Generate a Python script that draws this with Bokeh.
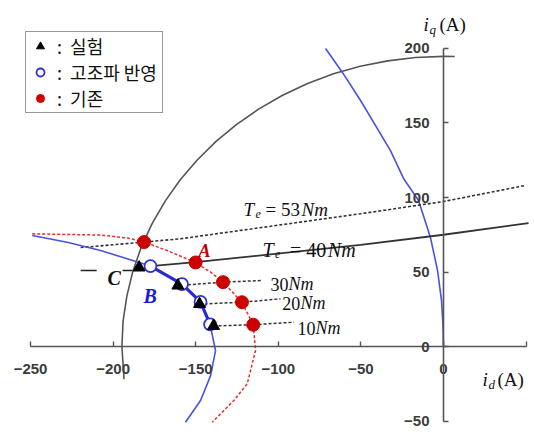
from bokeh.plotting import figure
from bokeh.models import Legend, LegendItem, FixedTicker
from bokeh.core.properties import value
from bokeh.embed import file_html
from bokeh.resources import INLINE

# ---- operating points (i_d, i_q in A) ----
base_x = [-181.3, -150.1, -133.5, -122.0, -115.2]          # 기존
base_y = [70.1, 56.4, 43.2, 29.7, 14.6]
harm_x = [-177.4, -158.3, -147.1, -141.3]                  # 고조파 반영
harm_y = [54.0, 41.9, 29.9, 14.8]
test_x = [-184.3, -160.8, -147.7, -139.2]                  # 실험
test_y = [53.0, 40.9, 28.5, 13.8]

# current limit circle
limit_x = [-193.4, -194.7, -194.0, -191.7, -188.1, -183.0, -176.5, -168.6, -159.5,
           -149.1, -137.7, -125.2, -111.7, -97.4, -82.3, -66.6, -50.4, -33.8,
           -17.0, 0.0, 6.8]
limit_y = [-22.0, 0.0, 17.0, 33.8, 50.4, 66.6, 82.3, 97.4, 111.7, 125.2, 137.7,
           149.1, 159.5, 168.6, 176.5, 183.0, 188.1, 191.7, 194.0, 194.7, 194.6]

# voltage limit curve near the q axis
volt_x = [-71.4, -61.3, -50.2, -32.1, -24.2, -15.1, -7.9, -3.6, -1.2, -0.3, 0.0]
volt_y = [200.0, 184.1, 165.1, 131.5, 112.8, 98.0, 73.2, 51.0, 30.9, 14.1, 0.0]

# trajectory, conventional
base_curve_x = [-249.0, -207.6, -191.3, -181.3, -167.3, -150.1, -141.0, -133.5,
                -122.0, -115.2, -113.8, -118.8, -126.9, -140.0]
base_curve_y = [75.6, 74.8, 72.8, 70.1, 64.4, 56.4, 49.9, 43.2, 29.7, 14.6,
                -2.7, -25.0, -36.2, -50.8]

# trajectory, harmonics considered
harm_curve_x = [-249.0, -227.8, -207.6, -191.5, -177.4, -158.3, -147.1, -141.3,
                -138.0, -141.0, -147.1, -156.2]
harm_curve_y = [74.5, 70.0, 64.4, 58.9, 54.0, 41.9, 29.9, 14.8, -2.7, -19.5,
                -36.2, -50.8]

# constant torque curves
t53_x = [-219.7, -181.3, -159.2, -50.2, 0.0, 49.6]
t53_y = [66.4, 70.1, 72.3, 89.1, 97.3, 108.1]
t40_x = [-177.4, -150.1, -50.2, 0.0, 51.5]
t40_y = [54.0, 56.6, 68.2, 75.0, 82.8]
t30_x = [-160.8, -133.5, -109.8]
t30_y = [40.9, 43.2, 44.3]
t20_x = [-147.7, -122.0, -98.7]
t20_y = [28.5, 29.7, 32.0]
t10_x = [-139.2, -115.2, -90.6]
t10_y = [13.8, 14.6, 16.3]

x_ticks = [-250, -200, -150, -100, -50, 0, 50]
y_ticks = [-50, 0, 50, 100, 150, 200]

p = figure(width=534, height=432, x_range=(-268.2, 55.1), y_range=(-57.7, 232.2),
           output_backend="svg", toolbar_location=None, min_border=0,
           outline_line_color=None, background_fill_color="white")
p.xgrid.visible = False
p.ygrid.visible = False

for ax, ticks, bounds in ((p.xaxis[0], x_ticks, (-250, 50)), (p.yaxis[0], y_ticks, (-50, 200))):
    ax.fixed_location = 0
    ax.ticker = FixedTicker(ticks=ticks)
    ax.bounds = bounds
    ax.axis_line_color = "#555555"
    ax.axis_line_width = 1.6
    ax.major_tick_line_color = "#555555"
    ax.major_tick_line_width = 1.4
    ax.major_tick_in = 5
    ax.major_tick_out = 0
    ax.minor_tick_line_color = None
    ax.major_label_text_font = "Liberation Sans"
    ax.major_label_text_font_size = "15px"
    ax.major_label_text_font_style = "bold"
    ax.major_label_text_color = "#3c3c3c"
p.xaxis[0].major_label_standoff = 17
p.yaxis[0].major_label_standoff = 14
p.xaxis[0].major_label_overrides = {50: ""}

SERIF = value("Liberation Serif")

# curves
p.line(limit_x, limit_y, line_color="#555555", line_width=1.6)
p.line(volt_x, volt_y, line_color="#4a52e0", line_width=1.6)
p.line(t53_x, t53_y, line_color="#333333", line_width=1.6, line_dash="3 2")
p.line(t40_x, t40_y, line_color="#333333", line_width=1.8)
for tx, ty in ((t30_x, t30_y), (t20_x, t20_y), (t10_x, t10_y)):
    p.line(tx, ty, line_color="#333333", line_width=1.5, line_dash="3 2")
p.line(base_curve_x, base_curve_y, line_color="#e03030", line_width=1.5, line_dash="3 2")
p.line(harm_curve_x, harm_curve_y, line_color="#4a52e0", line_width=1.6)
p.line(harm_x, harm_y, line_color="#2a2ad0", line_width=3.2)

# leader for C
p.segment(x0=[-219.7, -194.3], y0=[51.0, 51.0], x1=[-210.0, -188.3], y1=[51.0, 51.0],
          line_color="#222222", line_width=1.6)

# markers
r_harm = p.scatter(harm_x, harm_y, marker="circle", size=12, fill_color="white",
                   line_color="#3030d0", line_width=1.8)
r_test = p.scatter(test_x, test_y, marker="triangle", size=12, fill_color="black",
                   line_color="black")
r_base = p.scatter(base_x, base_y, marker="circle", size=13, fill_color="#cc0000",
                   line_color="#cc0000")


def txt(x, y, s, size, style="normal", color="#111111", font=SERIF):
    p.text(x=[x], y=[y], text=[s], text_font=font, text_font_size=size,
           text_font_style=style, text_color=color, text_baseline="alphabetic",
           text_align="left")


# torque labels
txt(-121.1, 92.1, "T", "19px", "italic")
txt(-113.8, 89.2, "e", "12px", "italic")
txt(-107.7, 92.1, "= 53", "19px")
txt(-85.9, 92.1, "Nm", "19px", "italic")

txt(-109.6, 65.1, "T", "20px", "italic")
txt(-102.0, 62.4, "e", "12px", "italic")
txt(-93.0, 65.1, "= 40", "20px")
txt(-70.0, 65.1, "Nm", "20px", "italic")

txt(-104.7, 41.9, "30", "18px")
txt(-93.8, 41.9, "Nm", "18px", "italic")
txt(-97.6, 28.9, "20", "18px")
txt(-86.6, 28.9, "Nm", "18px", "italic")
txt(-88.4, 12.1, "10", "18px")
txt(-77.5, 12.1, "Nm", "18px", "italic")

# point names
txt(-148.3, 64.4, "A", "18px", "bold italic", "#c00000")
txt(-181.6, 34.2, "B", "20px", "bold italic", "#1a1adc")
txt(-203.4, 46.3, "C", "20px", "bold italic", "#111111")

# axis titles
txt(-12.1, 216.1, "i", "19px", "italic")
txt(-8.5, 212.8, "q", "13px", "italic")
txt(-2.4, 216.1, "(A)", "19px")
txt(23.6, -22.1, "i", "19px", "italic")
txt(27.2, -25.5, "d", "13px", "italic")
txt(32.7, -22.1, "(A)", "19px")

legend = Legend(items=[LegendItem(label=":  실험", renderers=[r_test]),
                       LegendItem(label=":  고조파 반영\u00a0", renderers=[r_harm]),
                       LegendItem(label=":  기존", renderers=[r_base])],
                location=(25, 319), orientation="vertical",
                label_text_font="Noto Sans CJK KR", label_text_font_size="18px",
                label_text_color="#111111", border_line_color="#333333",
                border_line_width=1, background_fill_color="white",
                background_fill_alpha=1.0, padding=1, spacing=0, margin=0,
                glyph_width=26, glyph_height=20, label_height=20, label_standoff=4)
p.add_layout(legend)

open("out.html", "w").write(file_html(p, INLINE))
